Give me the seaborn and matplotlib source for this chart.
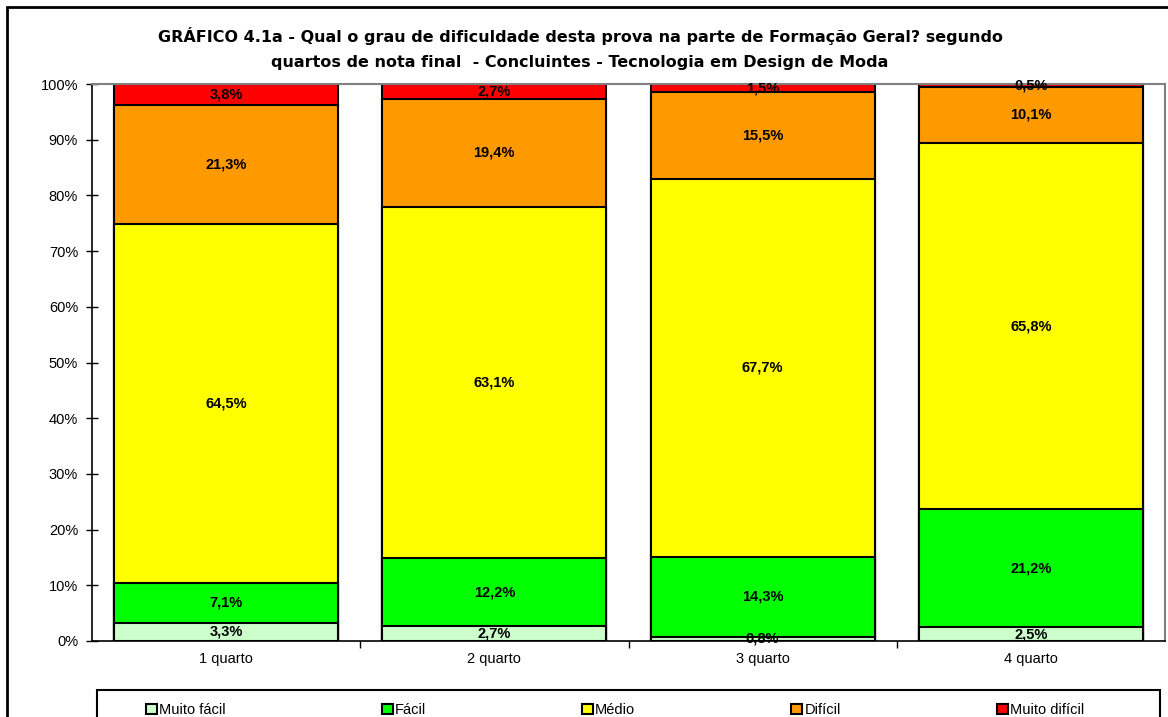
import matplotlib
matplotlib.use("Agg")
import matplotlib.pyplot as plt
import numpy as np
import pandas as pd
import seaborn as sns
from matplotlib.patches import Patch, Rectangle


quartos = ["1 quarto", "2 quarto", "3 quarto", "4 quarto"]
categorias = ["Muito fácil", "Fácil", "Médio", "Difícil", "Muito difícil"]

muito_facil = [3.3, 2.7, 0.8, 2.5]
facil = [7.1, 12.2, 14.3, 21.2]
medio = [64.5, 63.1, 67.7, 65.8]
dificil = [21.3, 19.4, 15.5, 10.1]
muito_dificil = [3.8, 2.7, 1.5, 0.5]

COLORS = ["#CCFFCC", "#00FF00", "#FFFF00", "#FF9900", "#FF0000"]

sns.set_theme(style="white")
plt.rcParams["font.family"] = ["Liberation Sans", "DejaVu Sans"]
plt.rcParams["text.color"] = "black"
plt.rcParams["xtick.color"] = "black"
plt.rcParams["ytick.color"] = "black"
plt.rcParams["axes.labelcolor"] = "black"

series = [muito_facil, facil, medio, dificil, muito_dificil]
values = np.array(series)
cum = np.cumsum(values, axis=0)
# normalise last level to 100 so the top of each bar reaches 100%
cum = cum / cum[-1] * 100

fig = plt.figure(figsize=(11.68, 7.17), dpi=100)
ax = fig.add_axes([92 / 1168, 76 / 717, 1073 / 1168, 557 / 717])

# draw cumulative levels from top down so the lower ones sit on top
for i in range(len(categorias) - 1, -1, -1):
    df = pd.DataFrame({"quarto": quartos, "valor": cum[i]})
    sns.barplot(data=df, x="quarto", y="valor", color=COLORS[i], ax=ax,
                width=0.835, edgecolor="black", linewidth=1.5,
                saturation=1, errorbar=None)

for j in range(len(quartos)):
    for i in range(len(categorias)):
        bottom = cum[i - 1][j] if i > 0 else 0
        mid = bottom + (cum[i][j] - bottom) / 2
        ax.text(j, mid, f"{values[i][j]:.1f}%".replace(".", ","),
                ha="center", va="center", fontsize=10.5, fontweight="bold",
                color="black")

ax.set_ylim(0, 100)
ax.set_xlim(-0.5, 3.5)
ax.set_yticks(np.arange(0, 101, 10))
ax.set_yticklabels([f"{v}%" for v in range(0, 101, 10)], fontsize=10.5)
ax.set_xlabel("")
ax.set_ylabel("")
ax.tick_params(axis="x", labelsize=10.5, length=0, pad=8)
ax.tick_params(axis="y", left=True, length=8, width=1, color="black",
               direction="inout", pad=6)
ax.set_xticks([0, 1, 2, 3])
ax.set_xticks([0.5, 1.5, 2.5], minor=True)
ax.tick_params(axis="x", which="minor", bottom=True, length=5, width=1,
               color="black", direction="out")

for side in ["top", "right"]:
    ax.spines[side].set_color("#808080")
    ax.spines[side].set_linewidth(1.5)
for side in ["left", "bottom"]:
    ax.spines[side].set_color("black")
    ax.spines[side].set_linewidth(1.2)

title_font = dict(ha="center", va="center", fontsize=11.5, fontweight="bold",
                  family=["DejaVu Sans"], color="black")
fig.text(580 / 1168, 1 - 36 / 717,
         "GRÁFICO 4.1a - Qual o grau de dificuldade desta prova na parte de Formação Geral? segundo",
         **title_font)
fig.text(580 / 1168, 1 - 62 / 717,
         "quartos de nota final  - Concluintes - Tecnologia em Design de Moda",
         **title_font)

# legend box drawn separately, entries centred inside
fig.patches.append(Rectangle((97 / 1168, -0.05), 1063 / 1168, 0.05 + 27 / 717,
                             transform=fig.transFigure, facecolor="white",
                             edgecolor="black", linewidth=1.5, zorder=1))
handles = [Patch(facecolor=c, edgecolor="black", linewidth=1.5) for c in COLORS]
leg = fig.legend(handles, categorias, loc="center", ncol=5,
                 bbox_to_anchor=(615 / 1168, 7 / 717),
                 frameon=False, fontsize=10.5, handlelength=0.75,
                 handleheight=0.75, handletextpad=0.15, columnspacing=10.7,
                 borderaxespad=0, borderpad=0)

fig.patches.append(Rectangle((7 / 1168, -0.05), 1.1, 1.05 - 7 / 717,
                             transform=fig.transFigure, fill=False,
                             edgecolor="black", linewidth=2))

fig.savefig("out.png", dpi=100)
